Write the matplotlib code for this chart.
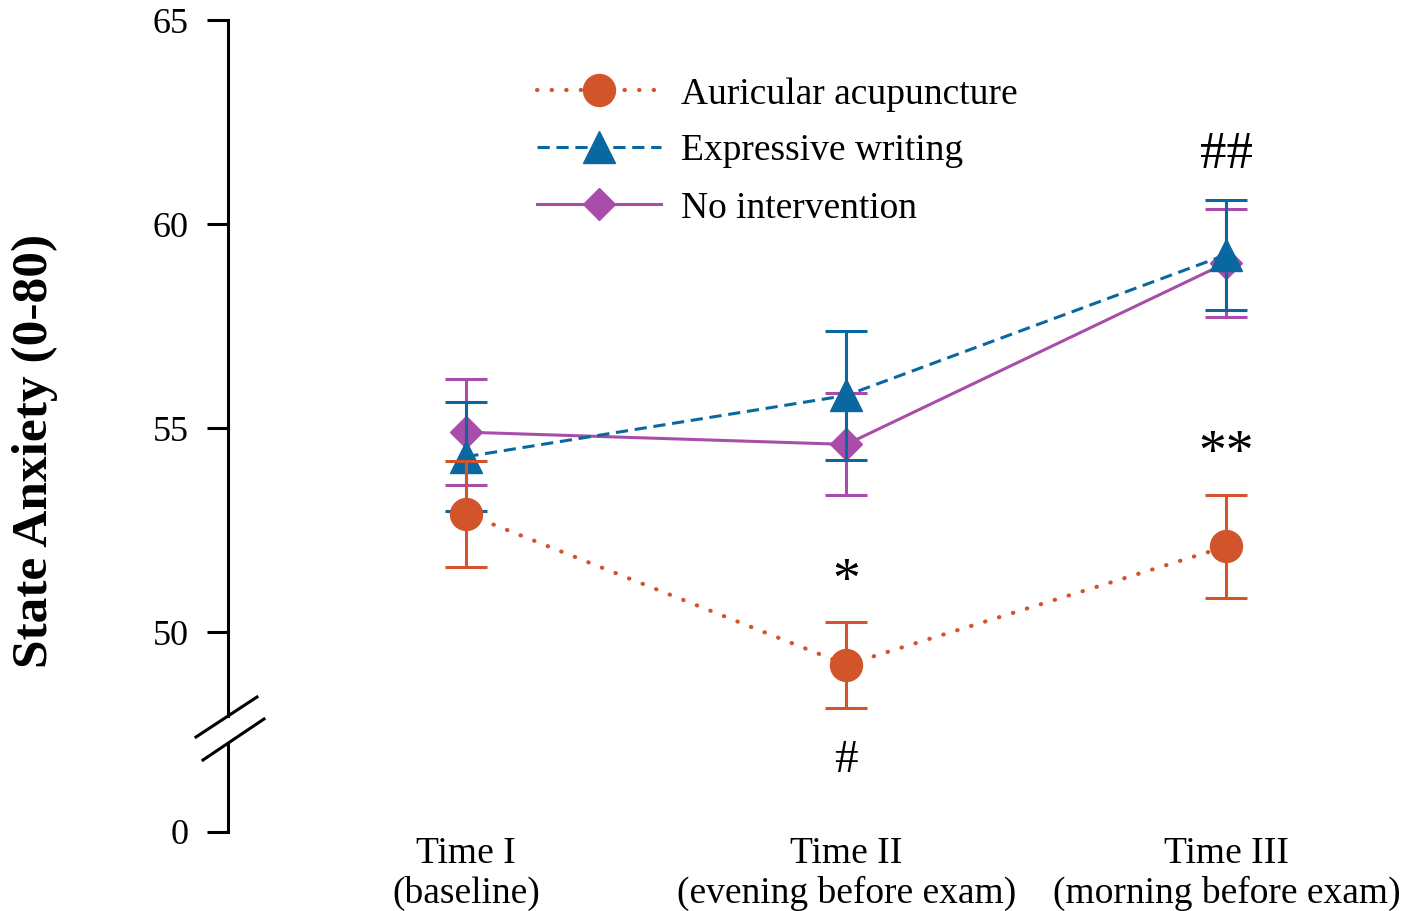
import matplotlib
matplotlib.use('Agg')
import matplotlib.pyplot as plt
from matplotlib.lines import Line2D

plt.rcParams['font.family'] = ['Liberation Serif', 'DejaVu Serif']

# data
time_labels = ['Time I\n(baseline)', 'Time II\n(evening before exam)', 'Time III\n(morning before exam)']
time_pos = [0, 1, 2]

acu_mean = [52.9, 49.2, 52.1]
acu_err = [1.3, 1.05, 1.27]
ew_mean = [54.3, 55.8, 59.25]
ew_err = [1.33, 1.57, 1.35]
ni_mean = [54.9, 54.6, 59.05]
ni_err = [1.3, 1.25, 1.33]

# significance marks: (x, y, text, size)
sig_marks = [(1, 51.2, '*', 40), (1, 46.85, '#', 34), (2, 54.35, '**', 40), (2, 61.7, '##', 38)]

c_acu = '#D2542A'
c_ew = '#0A68A0'
c_ni = '#A94DAA'

W, H = 1413, 911


def rect(x0, y0, x1, y1):
    # pixel box (top-left origin) -> figure fraction
    return [x0 / W, 1 - y1 / H, (x1 - x0) / W, (y1 - y0) / H]


fig = plt.figure(figsize=(W / 100, H / 100), dpi=100)
ax = fig.add_axes(rect(227.7, 20, 1400, 716.2))
axb = fig.add_axes(rect(227.7, 743.4, 1400, 832))

xlim = (-0.628, 2.457)

# no intervention (bottom layer)
ax.errorbar(time_pos, ni_mean, yerr=ni_err, fmt='none', ecolor=c_ni,
            elinewidth=2.2, capsize=15, capthick=2.2, zorder=3)
ax.plot(time_pos, ni_mean, color=c_ni, lw=2.2, marker='D', ms=16.5,
        label='No intervention', zorder=3)

# expressive writing
ax.errorbar(time_pos, ew_mean, yerr=ew_err, fmt='none', ecolor=c_ew,
            elinewidth=2.2, capsize=15, capthick=2.2, zorder=4)
ax.plot(time_pos, ew_mean, color=c_ew, lw=2.2, ls=(0, (4, 2.2)), marker='^', ms=23,
        label='Expressive writing', zorder=4)

# auricular acupuncture (top layer)
ax.errorbar(time_pos, acu_mean, yerr=acu_err, fmt='none', ecolor=c_acu,
            elinewidth=2.2, capsize=15, capthick=2.2, zorder=5)
ax.plot(time_pos, acu_mean, color=c_acu, lw=3, ls=(0, (0.1, 3.4)), dash_capstyle='round',
        marker='o', ms=23, label='Auricular acupuncture', zorder=5)

for x, y, s, fs in sig_marks:
    ax.text(x, y, s, ha='center', va='center', fontsize=fs, clip_on=False)

# top axis
ax.set_xlim(xlim)
ax.set_ylim(47.94, 65)
ax.set_yticks([50, 55, 60, 65])
ax.set_xticks([])
for s in ['top', 'right', 'bottom']:
    ax.spines[s].set_visible(False)
ax.spines['left'].set_linewidth(2.2)
ax.tick_params(axis='y', length=15, width=2.2, pad=13, labelsize=26)
ax.patch.set_visible(False)

# bottom axis (below the break)
axb.set_xlim(xlim)
axb.set_ylim(0, 10)
axb.set_yticks([0])
axb.set_xticks(time_pos)
axb.set_xticklabels(time_labels)
for s in ['top', 'right', 'bottom']:
    axb.spines[s].set_visible(False)
axb.spines['left'].set_linewidth(2.2)
axb.tick_params(axis='y', length=15, width=2.2, pad=13, labelsize=26)
axb.tick_params(axis='x', length=0, pad=3, labelsize=27)
axb.patch.set_visible(False)

# axis break marks
for (x0, y0, x1, y1) in [(196, 737, 257, 697), (203, 760, 264, 719)]:
    fig.add_artist(Line2D([x0 / W, x1 / W], [1 - y0 / H, 1 - y1 / H],
                          transform=fig.transFigure, color='black', lw=2.2))

fig.text(35 / W, 1 - 451 / H, 'State Anxiety (0-80)', rotation=90, ha='center',
         va='center', fontsize=37, fontweight='bold')

h, l = ax.get_legend_handles_labels()
order = [2, 1, 0]
ax.legend([h[i] for i in order], [l[i] for i in order], loc='upper left',
          bbox_to_anchor=(537 / W, 1 - 77 / H), bbox_transform=fig.transFigure,
          frameon=False, fontsize=27, handlelength=3.3, handletextpad=0.55,
          labelspacing=0.6, borderpad=0, borderaxespad=0, numpoints=1)

fig.savefig('out.png', dpi=100)
